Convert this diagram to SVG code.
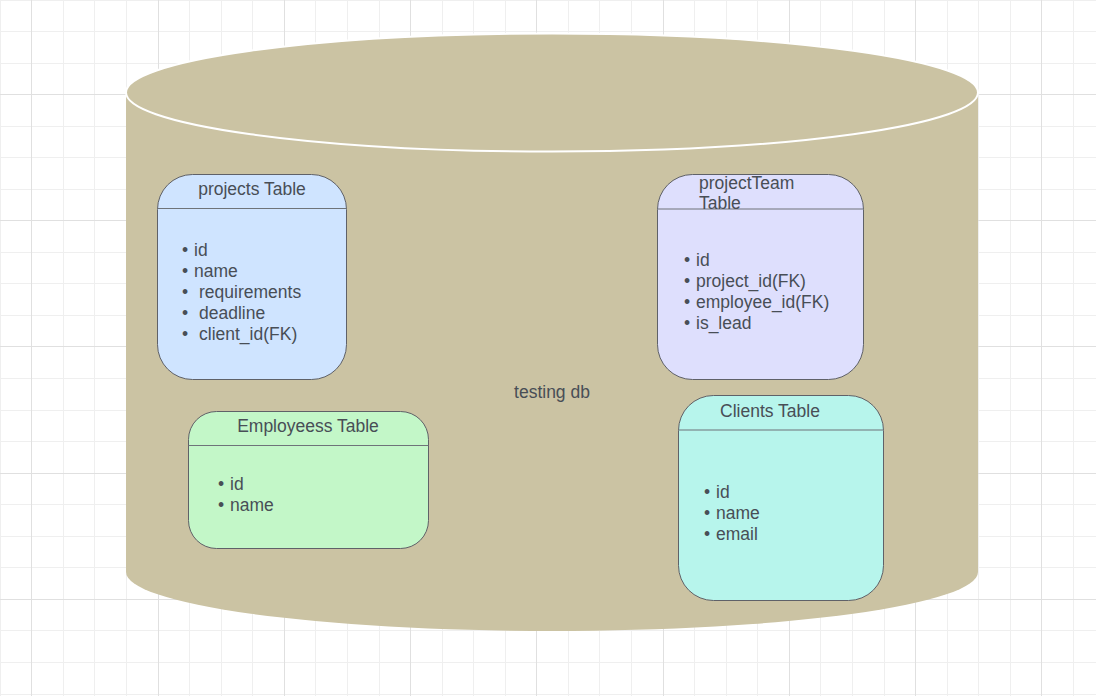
<svg xmlns="http://www.w3.org/2000/svg" width="1096" height="696" viewBox="0 0 1096 696">
<style>
.minor{stroke:#efefef;stroke-width:1;fill:none}
.major{stroke:#e0e0e0;stroke-width:1;fill:none}
.tbl{stroke:#5f6168;stroke-width:1}
.hdr{stroke:#6e7379;stroke-width:1.2}
text{font-family:"Liberation Sans",Arial,sans-serif;font-size:17.5px;fill:#484e56}
.c{text-anchor:middle}
</style>
<rect width="1096" height="696" fill="#ffffff"/>
<g id="grid">
<path class="minor" d="M0.5 0V696M63.5 0V696M94.5 0V696M126.5 0V696M189.5 0V696M221.5 0V696M252.5 0V696M315.5 0V696M347.5 0V696M379.5 0V696M442.5 0V696M473.5 0V696M505.5 0V696M568.5 0V696M599.5 0V696M631.5 0V696M694.5 0V696M726.5 0V696M757.5 0V696M820.5 0V696M852.5 0V696M884.5 0V696M947.5 0V696M978.5 0V696M1010.5 0V696M1073.5 0V696"/>
<path class="minor" d="M0 0.5H1096M0 31.5H1096M0 63.5H1096M0 126.5H1096M0 157.5H1096M0 189.5H1096M0 252.5H1096M0 283.5H1096M0 315.5H1096M0 378.5H1096M0 410.5H1096M0 441.5H1096M0 504.5H1096M0 536.5H1096M0 567.5H1096M0 630.5H1096M0 662.5H1096M0 694.5H1096"/>
<path class="major" d="M31.5 0V696M158.5 0V696M284.5 0V696M410.5 0V696M536.5 0V696M663.5 0V696M789.5 0V696M915.5 0V696M1041.5 0V696"/>
<path class="major" d="M0 94.5H1096M0 220.5H1096M0 346.5H1096M0 473.5H1096M0 599.5H1096"/>
</g>
<g id="db">
<path d="M126 92.5 V572 A426 59 0 0 0 978 572 V92.5 Z" fill="#cbc3a3"/>
<ellipse cx="552" cy="92.5" rx="426" ry="59" fill="#cbc3a3" stroke="#ffffff" stroke-width="2"/>
<text class="c" x="552" y="398">testing db</text>
</g>
<g id="connectors"></g>
<g id="projects">
<rect class="tbl" x="157.5" y="174.5" width="189" height="205" rx="35" ry="35" fill="#cfe4ff"/>
<line class="hdr" x1="157.5" y1="208.5" x2="346.5" y2="208.5"/>
<text class="c" x="252" y="195">projects Table</text>
<text x="182" y="256">•<tspan x="194">id</tspan></text>
<text x="182" y="277">•<tspan x="194">name</tspan></text>
<text x="182" y="298">•<tspan x="199">requirements</tspan></text>
<text x="182" y="319">•<tspan x="199">deadline</tspan></text>
<text x="182" y="340">•<tspan x="199">client_id(FK)</tspan></text>
</g>
<g id="projectTeam">
<rect class="tbl" x="657.5" y="174.5" width="206" height="205" rx="35" ry="35" fill="#dedffd"/>
<line class="hdr" x1="657.5" y1="209" x2="863.5" y2="209"/>
<text x="699" y="189">projectTeam</text>
<text x="699" y="209">Table</text>
<text x="684" y="266">•<tspan x="696">id</tspan></text>
<text x="684" y="287">•<tspan x="696">project_id(FK)</tspan></text>
<text x="684" y="308">•<tspan x="696">employee_id(FK)</tspan></text>
<text x="684" y="329">•<tspan x="696">is_lead</tspan></text>
</g>
<g id="employees">
<rect class="tbl" x="188.5" y="411.5" width="240" height="137" rx="28" ry="28" fill="#c3f7c8"/>
<line class="hdr" x1="188.5" y1="445.5" x2="428.5" y2="445.5"/>
<text class="c" x="308" y="432">Employeess Table</text>
<text x="218" y="490">•<tspan x="230">id</tspan></text>
<text x="218" y="511">•<tspan x="230">name</tspan></text>
</g>
<g id="clients">
<rect class="tbl" x="678.5" y="395.5" width="205" height="205" rx="35" ry="35" fill="#b7f5ec"/>
<line class="hdr" x1="678.5" y1="430" x2="883.5" y2="430"/>
<text x="720" y="417">Clients Table</text>
<text x="704" y="498">•<tspan x="716">id</tspan></text>
<text x="704" y="519">•<tspan x="716">name</tspan></text>
<text x="704" y="540">•<tspan x="716">email</tspan></text>
</g>
</svg>
